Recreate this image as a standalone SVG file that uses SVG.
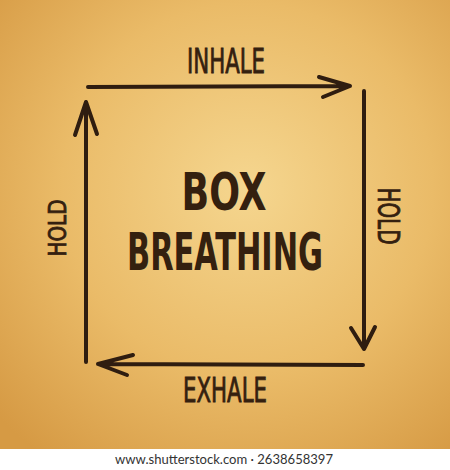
<svg xmlns="http://www.w3.org/2000/svg" width="450" height="470" viewBox="0 0 450 470">
<defs>
<radialGradient id="paper" cx="0.55" cy="0.42" r="0.75">
<stop offset="0" stop-color="#f5d68f"/>
<stop offset="0.55" stop-color="#eabb68"/>
<stop offset="1" stop-color="#d69a44"/>
</radialGradient>
<style>
.lbl{font-family:"Liberation Sans Narrow","DejaVu Sans Condensed","Liberation Sans",sans-serif;fill:#34200f;stroke:#34200f;stroke-width:0.8;text-anchor:middle}
.ttl{font-weight:bold;stroke-width:0}
.arr{fill:none;stroke:#2f1d10;stroke-width:4;stroke-linecap:round;stroke-linejoin:round}
.foot{font-family:Lato,"Liberation Sans",sans-serif;font-size:14px;fill:#333;text-anchor:middle}
</style>
</defs>
<rect x="0" y="0" width="450" height="449" fill="url(#paper)"/>
<rect x="0" y="449" width="450" height="21" fill="#ffffff"/>
<g id="connectors">
<path class="arr" d="M88,87 L350,86 M319,77 L350,86 L323,97"/>
<path class="arr" d="M364,91 L364,349 M351,328 L364,349 L375,327"/>
<path class="arr" d="M363,365 L98,364 M133,355 L98,364 L127,375"/>
<path class="arr" d="M86,362 L86,102 M75,135 L86,102 L97,134"/>
</g>
<g id="inhale"><text class="lbl" x="226" y="73" font-size="33" textLength="78" lengthAdjust="spacingAndGlyphs">INHALE</text></g>
<g id="hold-right"><text class="lbl" transform="translate(378,216) rotate(90)" x="0" y="0" font-size="30" textLength="57" lengthAdjust="spacingAndGlyphs">HOLD</text></g>
<g id="exhale"><text class="lbl" x="225" y="402" font-size="34" textLength="84" lengthAdjust="spacingAndGlyphs">EXHALE</text></g>
<g id="hold-left"><text class="lbl" transform="translate(66,228) rotate(-90)" x="0" y="0" font-size="25" textLength="57" lengthAdjust="spacingAndGlyphs">HOLD</text></g>
<g id="title">
<text class="lbl ttl" x="224" y="210" font-size="52" textLength="85" lengthAdjust="spacingAndGlyphs">BOX</text>
<text class="lbl ttl" x="225" y="270" font-size="52" textLength="196" lengthAdjust="spacingAndGlyphs">BREATHING</text>
</g>
<text class="foot" x="224" y="464" textLength="218" lengthAdjust="spacingAndGlyphs">www.shutterstock.com · 2638658397</text>
</svg>
